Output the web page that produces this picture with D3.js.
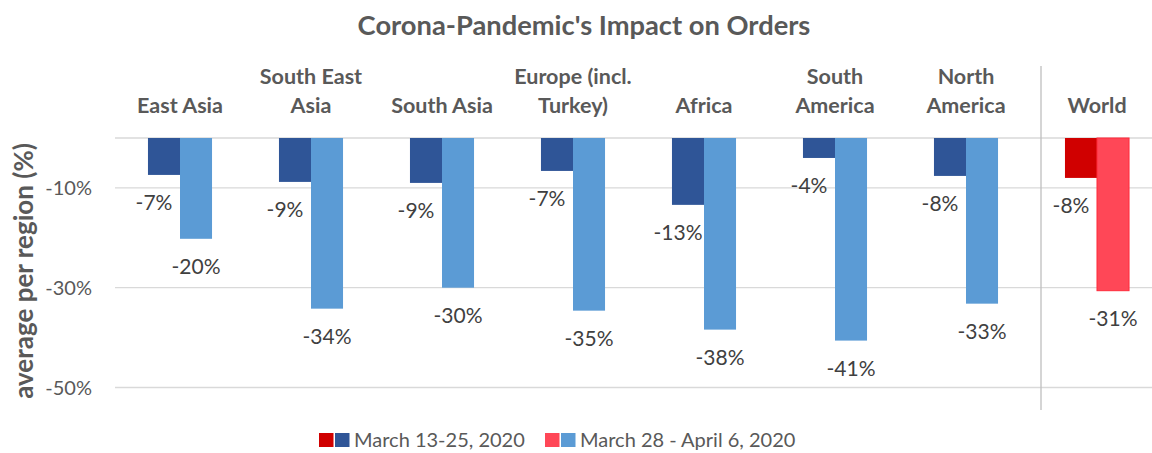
<!DOCTYPE html>
<html>
<head>
<meta charset="utf-8">
<script src="https://cdn.jsdelivr.net/npm/d3@7"></script>
<style>
  body { margin: 0; background: #fff; }
  svg { display: block; font-family: Lato, "Open Sans", sans-serif; }
</style>
</head>
<body>
<div id="chart"></div>
<script>
const width = 1152;
const height = 453;

const regions = [["East Asia"], ["South East", "Asia"], ["South Asia"], ["Europe (incl.", "Turkey)"],
    ["Africa"], ["South", "America"], ["North", "America"], ["World"]];
const march = [-7.4, -8.8, -9.0, -6.6, -13.4, -4.0, -7.6, -8.0];
const april = [-20.2, -34.2, -30.0, -34.6, -38.4, -40.6, -33.2, -30.6];
const yTicks = [-10, -30, -50];
const seriesNames = ["March 13-25, 2020", "March 28 - April 6, 2020"];

const colors = {
    march: "#2F5597", april: "#5B9BD5",
    worldMarch: "#D00000", worldApril: "#FF4757"
};

const svg = d3.select("#chart")
    .append("svg")
    .attr("width", width)
    .attr("height", height);

const x = d3.scaleBand()
    .domain(d3.range(regions.length))
    .range([114.5, 1162.5])
    .paddingInner(0.511)
    .paddingOuter(0.2555);

const x1 = d3.scaleBand()
    .domain([0, 1])
    .range([0, x.bandwidth()]);

const y = d3.scaleLinear()
    .domain([0, -50])
    .range([138, 387.5]);

// gridlines
svg.append("g")
    .selectAll("line")
    .data([0].concat(yTicks))
    .join("line")
    .attr("x1", 115)
    .attr("x2", width)
    .attr("y1", d => y(d))
    .attr("y2", d => y(d))
    .attr("stroke", "#D9D9D9")
    .attr("stroke-width", 1.3);

// y axis labels
svg.append("g")
    .selectAll("text")
    .data(yTicks)
    .join("text")
    .attr("x", 92)
    .attr("y", d => y(d))
    .attr("dy", "0.35em")
    .attr("text-anchor", "end")
    .attr("fill", "#595959")
    .attr("font-size", 20)
    .text(d => d + "%");

svg.append("text")
    .attr("transform", "translate(33,271) rotate(-90)")
    .attr("text-anchor", "middle")
    .attr("fill", "#595959")
    .attr("font-size", 26)
    .attr("font-weight", "bold")
    .text("average per region (%)");

// title
svg.append("text")
    .attr("x", 584)
    .attr("y", 35)
    .attr("text-anchor", "middle")
    .attr("fill", "#595959")
    .attr("font-size", 27.3)
    .attr("font-weight", "bold")
    .text("Corona-Pandemic's Impact on Orders");

// world separator
const sepX = x(7) - x.step() * x.paddingInner() / 2 + 9.5;
svg.append("line")
    .attr("x1", sepX)
    .attr("x2", sepX)
    .attr("y1", 66)
    .attr("y2", 410)
    .attr("stroke", "#BFBFBF")
    .attr("stroke-width", 1.3);

// category labels
const cat = svg.append("g")
    .selectAll("text")
    .data(regions)
    .join("text")
    .attr("x", (d, i) => x(i) + x.bandwidth() / 2)
    .attr("text-anchor", "middle")
    .attr("fill", "#595959")
    .attr("font-size", 21.5)
    .attr("font-weight", "bold");

cat.selectAll("tspan")
    .data(d => d.map((t, k) => ({ t, k, n: d.length })))
    .join("tspan")
    .attr("x", function () { return d3.select(this.parentNode).attr("x"); })
    .attr("y", d => 113 - (d.n - 1 - d.k) * 29)
    .text(d => d.t);

// bars
const rows = regions.map((r, i) => ({ i, vals: [march[i], april[i]] }));

const groups = svg.append("g")
    .selectAll("g")
    .data(rows)
    .join("g")
    .attr("transform", d => `translate(${x(d.i)},0)`);

function barColor(i, s) {
    if (i === 7) return s === 0 ? colors.worldMarch : colors.worldApril;
    return s === 0 ? colors.march : colors.april;
}

groups.selectAll("rect")
    .data(d => d.vals.map((v, s) => ({ v, s, i: d.i })))
    .join("rect")
    .attr("x", d => x1(d.s))
    .attr("y", y(0))
    .attr("width", x1.bandwidth())
    .attr("height", d => y(d.v) - y(0))
    .attr("fill", d => barColor(d.i, d.s))
    .attr("stroke", d => d.i === 7 && d.s === 1 ? "#FF2B3B" : "none")
    .attr("stroke-width", 1);

groups.selectAll("text")
    .data(d => d.vals.map((v, s) => ({ v, s, i: d.i })))
    .join("text")
    .attr("x", d => x1(d.s) + x1.bandwidth() / 2 - (d.s === 0 ? 10 : 0))
    .attr("y", d => y(d.v) + 28)
    .attr("dy", "0.35em")
    .attr("text-anchor", "middle")
    .attr("fill", "#404040")
    .attr("font-size", 21)
    .text(d => Math.round(d.v) + "%");

// legend
const legend = svg.append("g");
const legendItems = [
    { x: 319, name: seriesNames[0], c: [colors.worldMarch, colors.march] },
    { x: 545, name: seriesNames[1], c: [colors.worldApril, colors.april] }
];
legendItems.forEach(item => {
    legend.append("rect")
        .attr("x", item.x).attr("y", 433)
        .attr("width", 14.5).attr("height", 14)
        .attr("fill", item.c[0]);
    legend.append("rect")
        .attr("x", item.x + 16).attr("y", 433)
        .attr("width", 14.5).attr("height", 14)
        .attr("fill", item.c[1]);
    legend.append("text")
        .attr("x", item.x + 35)
        .attr("y", 440)
        .attr("dy", "0.35em")
        .attr("fill", "#595959")
        .attr("font-size", 20)
        .text(item.name);
});
</script>
</body>
</html>
